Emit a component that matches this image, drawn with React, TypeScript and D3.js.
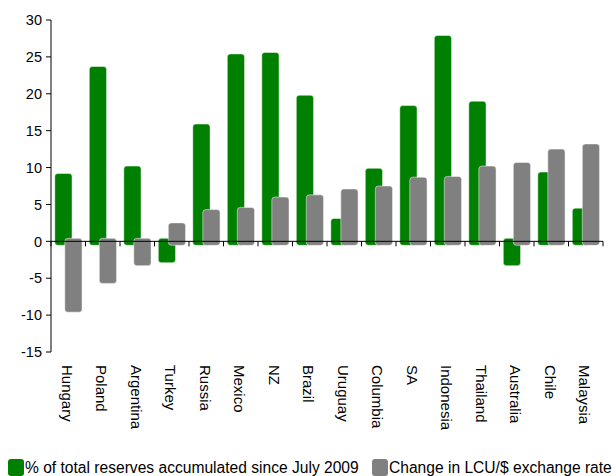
import React from "react";
import * as d3 from "d3";

const categories = ["Hungary", "Poland", "Argentina", "Turkey", "Russia", "Mexico", "NZ", "Brazil", "Uruguay", "Columbia", "SA", "Indonesia", "Thailand", "Australia", "Chile", "Malaysia"];
const reserves = [9.2, 23.7, 10.2, -2.9, 15.9, 25.4, 25.6, 19.8, 3.1, 9.9, 18.4, 27.9, 19.0, -3.3, 9.4, 4.5];
const exchange = [-9.6, -5.7, -3.3, 2.5, 4.3, 4.6, 6.0, 6.3, 7.1, 7.5, 8.7, 8.8, 10.2, 10.7, 12.5, 13.2];
const yTicks = [-15, -10, -5, 0, 5, 10, 15, 20, 25, 30];
const seriesNames = ["% of total reserves accumulated since July 2009", "Change in LCU/$ exchange rate"];
const colors = ["#008000", "#808080"];

const FONT = "'Liberation Sans', Arial, Helvetica, sans-serif";

export default function App() {
  const W = 616, H = 476;
  const left = 51, right = 603, top = 20, bottom = 352;
  const x = d3.scaleBand<string>().domain(categories).range([left, right]).padding(0);
  const y = d3.scaleLinear().domain([-15, 30]).range([bottom, top]);
  const bw = x.bandwidth();
  const y0 = y(0);

  const bar = (v: number, xs: number, w: number, color: string, key: string) => {
    const yv = y(v);
    let y1: number, y2: number;
    if (v >= 0) { y1 = yv; y2 = y0 + 4; } else { y1 = y0 - 3; y2 = yv; }
    return (
      <rect key={key} x={xs} y={y1} width={w} height={Math.max(0, y2 - y1)} rx={3} ry={3}
        fill={color} stroke="#ffffff" strokeOpacity={0.6} strokeWidth={0.8} />
    );
  };

  const series = [reserves, exchange];
  const offsets = [0.11, 0.4];

  return (
    <svg width={W} height={H} style={{ position: "absolute", left: 0, top: 0, background: "#fff" }} fontFamily={FONT}>
      {series.map((vals, si) =>
        categories.map((c, i) => bar(vals[i], (x(c) as number) + offsets[si] * bw, bw * 0.5, colors[si], `b${si}-${i}`))
      )}
      {/* y axis */}
      <line x1={left} x2={left} y1={top} y2={bottom} stroke="#000" strokeWidth={1} />
      {yTicks.map((t) => (
        <g key={`yt${t}`}>
          <line x1={left - 5} x2={left} y1={y(t)} y2={y(t)} stroke="#000" strokeWidth={1} />
          <text x={left - 9} y={y(t)} dy="0.36em" textAnchor="end" fontSize={14.5} fill="#000">{t}</text>
        </g>
      ))}
      {/* x axis */}
      <line x1={left} x2={right} y1={y0} y2={y0} stroke="#000" strokeWidth={1} />
      {d3.range(categories.length + 1).map((i) => {
        const xx = left + i * bw;
        return <line key={`xt${i}`} x1={xx} x2={xx} y1={y0} y2={y0 + 5} stroke="#000" strokeWidth={1} />;
      })}
      {categories.map((c) => {
        const cx = (x(c) as number) + bw / 2;
        return (
          <text key={`xl${c}`} transform={`translate(${cx - 6.5},365) rotate(90)`} fontSize={15} fill="#000">{c}</text>
        );
      })}
      {/* legend */}
      <rect x={8} y={459} width={16} height={17} rx={3} ry={3} fill={colors[0]} />
      <text x={25} y={473} fontSize={15.6} fill="#000">{seriesNames[0]}</text>
      <rect x={372} y={459} width={16} height={17} rx={3} ry={3} fill={colors[1]} />
      <text x={389} y={473} fontSize={15.6} fill="#000">{seriesNames[1]}</text>
    </svg>
  );
}
